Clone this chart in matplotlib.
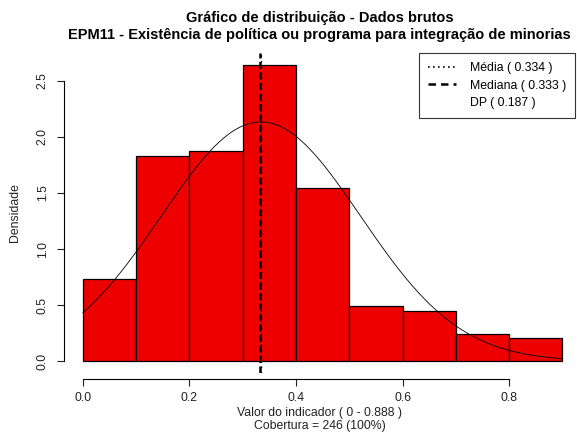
import numpy as np
import matplotlib
matplotlib.use("Agg")
import matplotlib.pyplot as plt
from matplotlib.lines import Line2D

plt.rcParams['font.family'] = ['Liberation Sans', 'DejaVu Sans']

# histogram data (bin width 0.1, counts read from the density heights)
bin_edges = [0.0, 0.1, 0.2, 0.3, 0.4, 0.5, 0.6, 0.7, 0.8, 0.9]
counts = [18, 45, 46, 65, 38, 12, 11, 6, 5]
n_total = 246
media = 0.334
mediana = 0.333
dp = 0.187
x_max = 0.888

widths = np.diff(bin_edges)
dens = np.array(counts) / (n_total * widths)

fig = plt.figure(figsize=(5.77, 4.38), dpi=100)
ax = fig.add_axes([64/577, (438-373)/438, (575-64)/577, (373-53)/438])

ax.bar(bin_edges[:-1], dens, width=widths, align='edge', color='#EE0000',
       edgecolor='black', linewidth=0.9)

xs = np.linspace(bin_edges[0], bin_edges[-1], 300)
ys = np.exp(-(xs - media)**2 / (2*dp**2)) / (dp*np.sqrt(2*np.pi))
ax.plot(xs, ys, color='black', lw=0.6)

ax.axvline(mediana, color='black', lw=1.8, linestyle=(0, (2.8, 1.4)))
ax.axvline(media, color='black', lw=1.0, linestyle=(0, (1, 3)))

ax.set_xlim(-0.0355, 0.9235)
ymax = dens.max()
ax.set_ylim(-0.04*ymax, 1.04*ymax)

for s in ['top', 'right']:
    ax.spines[s].set_visible(False)
ax.spines['bottom'].set_position(('outward', 4))
ax.spines['left'].set_bounds(0, 2.5)
ax.spines['bottom'].set_bounds(0, 0.8)
for s in ['left', 'bottom']:
    ax.spines[s].set_linewidth(0.8)

ax.set_xticks([0.0, 0.2, 0.4, 0.6, 0.8])
ax.set_xticklabels(['0.0', '0.2', '0.4', '0.6', '0.8'])
ax.set_yticks([0.0, 0.5, 1.0, 1.5, 2.0, 2.5])
ax.set_yticklabels(['0.0', '0.5', '1.0', '1.5', '2.0', '2.5'], rotation=90, va='center')
ax.tick_params(axis='both', direction='out', length=5, width=0.8, labelsize=8.8,
               colors='#222222', pad=5)
ax.tick_params(axis='y', pad=6)

ax.set_ylabel('Densidade', fontsize=8.8, color='#222222', labelpad=11)
ax.set_xlabel('Valor do indicador ( 0 - %s )\nCobertura = %d (100%%)' % (x_max, n_total),
              fontsize=8.8, color='#222222', labelpad=2, linespacing=1.1)

ax.set_title('Gráfico de distribuição - Dados brutos\n'
             'EPM11 - Existência de política ou programa para integração de minorias',
             fontsize=10.5, fontweight='bold', pad=10, linespacing=1.3)

handles = [Line2D([], [], color='black', lw=1.2, linestyle=(0, (1, 2))),
           Line2D([], [], color='black', lw=1.8, linestyle=(0, (3, 2))),
           Line2D([], [], color='none')]
labels = ['Média ( %.3f )' % media, 'Mediana ( %.3f )' % mediana, 'DP ( %.3f )' % dp]
leg = ax.legend(handles, labels, loc='upper right', fontsize=8.8, frameon=True,
                fancybox=False, edgecolor='black', handlelength=2.3,
                handletextpad=1.1, borderaxespad=0.0, borderpad=0.75,
                labelspacing=0.45)
leg.get_frame().set_linewidth(0.8)

fig.savefig('out.png', dpi=100)
